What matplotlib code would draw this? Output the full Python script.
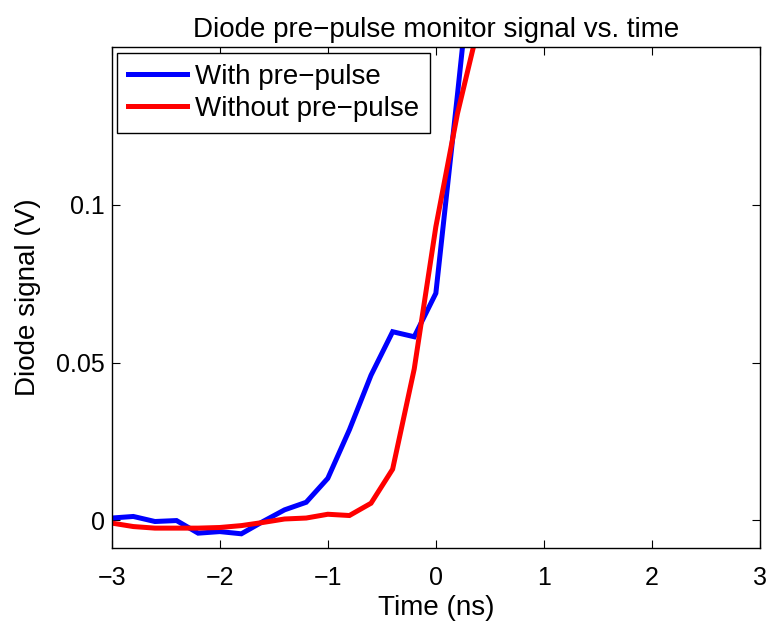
import numpy as np
import matplotlib
matplotlib.use("Agg")
import matplotlib.pyplot as plt

# Diode signal samples, 0.2 ns apart
time_ns = [-3.0, -2.8, -2.6, -2.4, -2.2, -2.0, -1.8, -1.6, -1.4, -1.2, -1.0,
           -0.8, -0.6, -0.4, -0.2, 0.0, 0.2, 0.4, 0.6]
with_prepulse = [0.0007, 0.0012, -0.0004, -0.0001, -0.0041, -0.0036, -0.0043,
                 -0.0004, 0.0033, 0.0057, 0.0133, 0.0287, 0.0460, 0.0598,
                 0.0582, 0.0720, 0.1350, 0.2000, 0.3000]
without_prepulse = [-0.0009, -0.0020, -0.0025, -0.0025, -0.0025, -0.0023, -0.0017,
                    -0.0007, 0.0004, 0.0007, 0.0019, 0.0015, 0.0054, 0.0162,
                    0.0480, 0.0931, 0.1290, 0.1576, 0.1900]

xticks = [-3, -2, -1, 0, 1, 2, 3]
yticks = [0, 0.05, 0.1]
ytick_labels = ["0", "0.05", "0.1"]

plt.rcParams["font.family"] = ["Liberation Sans", "DejaVu Sans"]
plt.rcParams["axes.unicode_minus"] = True

fig = plt.figure(figsize=(7.71, 6.23), dpi=100)
ax = fig.add_axes([0.1449, 0.1199, 0.8408, 0.8051])

ax.plot(time_ns, with_prepulse, color="#0000ff", linewidth=3.6,
        label="With pre\u2212pulse", solid_joinstyle="miter")
ax.plot(time_ns, without_prepulse, color="#ff0000", linewidth=3.6,
        label="Without pre\u2212pulse", solid_joinstyle="miter")

ax.set_xlim(-3, 3)
ax.set_ylim(-0.0089, 0.1502)
ax.set_xticks(xticks)
ax.set_yticks(yticks)
ax.set_yticklabels(ytick_labels)

ax.tick_params(direction="in", top=True, right=True, length=6, width=0.8,
               labelsize=18)
ax.tick_params(axis="x", pad=13)
ax.tick_params(axis="y", pad=5)
for s in ax.spines.values():
    s.set_linewidth(1.0)

ax.set_xlabel("Time (ns)", fontsize=20, labelpad=3)
ax.set_ylabel("Diode signal (V)", fontsize=20, labelpad=11)
ax.set_title("Diode pre\u2212pulse monitor signal vs. time", fontsize=20, pad=7)

leg = ax.legend(loc="upper left", bbox_to_anchor=(0.0086, 0.988), borderaxespad=0,
                fontsize=20, frameon=True, fancybox=False, framealpha=1,
                edgecolor="black", handlelength=2.1, handletextpad=0.3,
                borderpad=0.4, labelspacing=0.22)
leg.get_frame().set_linewidth(1.0)

fig.savefig("out.png", dpi=100)
